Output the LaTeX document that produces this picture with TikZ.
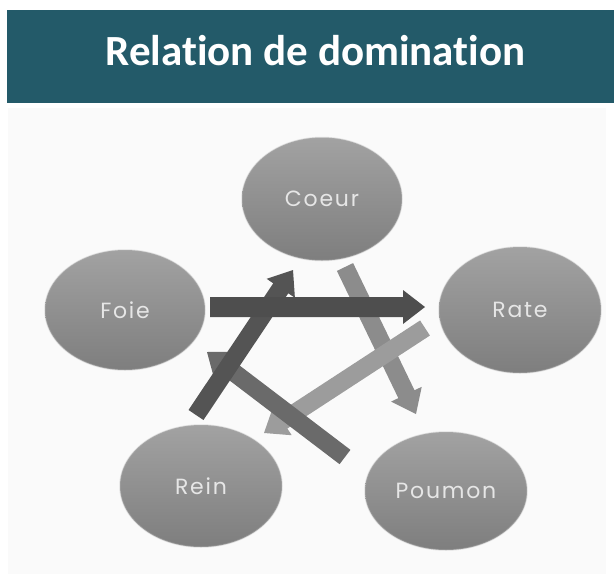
\documentclass[tikz,border=0pt]{standalone}
\usepackage{fontspec}
\setmainfont{Carlito}[Ligatures=NoCommon]
\newfontfamily\labelfont{Poppins}[LetterSpace=8]
\usetikzlibrary{calc,shapes.geometric}
\definecolor{barcol}{HTML}{235A69}
\definecolor{panelcol}{HTML}{FAFAFA}
\definecolor{orgtop}{HTML}{A2A2A2}
\definecolor{orgbot}{HTML}{7E7E7E}
\definecolor{orgtext}{HTML}{E6E6E6}
\definecolor{arA}{HTML}{4E4E4E}
\definecolor{arB}{HTML}{545454}
\definecolor{arC}{HTML}{6A6A6A}
\definecolor{arD}{HTML}{8C8C8C}
\definecolor{arE}{HTML}{9C9C9C}
% block arrow: #1 tail, #2 tip, #3 colour, #4 half shaft width
\newcommand\barrow[4]{%
  \coordinate (#1-#2-h) at ($(#2)!22pt!(#1)$);
  \fill[#3] ($(#1)!#4!90:(#2)$) -- ($(#1-#2-h)!#4!90:(#2)$)
    -- ($(#1-#2-h)!17pt!90:(#2)$) -- (#2)
    -- ($(#1-#2-h)!17pt!-90:(#2)$) -- ($(#1-#2-h)!#4!-90:(#2)$)
    -- ($(#1)!#4!-90:(#2)$) -- cycle;
}
\begin{document}
\begin{tikzpicture}[x=1pt,y=-1pt,
  organ/.style={ellipse, inner sep=0pt, top color=orgtop, bottom color=orgbot,
    draw=black!30, draw opacity=0.35, line width=1.5pt,
    text=orgtext, font=\labelfont\fontsize{22}{26}\selectfont},
  titletext/.style={text=white, font=\bfseries\fontsize{43}{50}\selectfont, anchor=base}]
\useasboundingbox (0,0) rectangle (614,574);
\fill[white] (0,0) rectangle (614,574);
\fill[panelcol] (8,108) rectangle (606,574);
\fill[barcol] (7,10) rectangle (614,103);
\node[titletext] (title) at (315.5,65) {Relation de domination};

\node[organ, minimum width=160pt, minimum height=123pt] (coeur) at (322,199) {Coeur};
\node[organ, minimum width=160pt, minimum height=120pt] (foie) at (125,310) {Foie};
\node[organ, minimum width=162pt, minimum height=126pt] (rate) at (520,310) {Rate};
\node[organ, minimum width=162pt, minimum height=122pt] (rein) at (201,486) {Rein};
\node[organ, minimum width=162pt, minimum height=118pt] (poumon) at (446,491) {Poumon};

% arrow ends
\coordinate (cpT) at (345,267);  \coordinate (cpH) at (416,414);
\coordinate (rrT) at (425,328);  \coordinate (rrH) at (264,433);
\coordinate (pfT) at (345,457);  \coordinate (pfH) at (207,352);
\coordinate (rcT) at (196,415);  \coordinate (rcH) at (293,270);
\coordinate (frT) at (210,307);  \coordinate (frH) at (425,307);

\barrow{cpT}{cpH}{arD}{9pt}
\barrow{rrT}{rrH}{arE}{9pt}
\barrow{pfT}{pfH}{arC}{9pt}
\barrow{rcT}{rcH}{arB}{9pt}
\barrow{frT}{frH}{arA}{10pt}
\end{tikzpicture}
\end{document}
